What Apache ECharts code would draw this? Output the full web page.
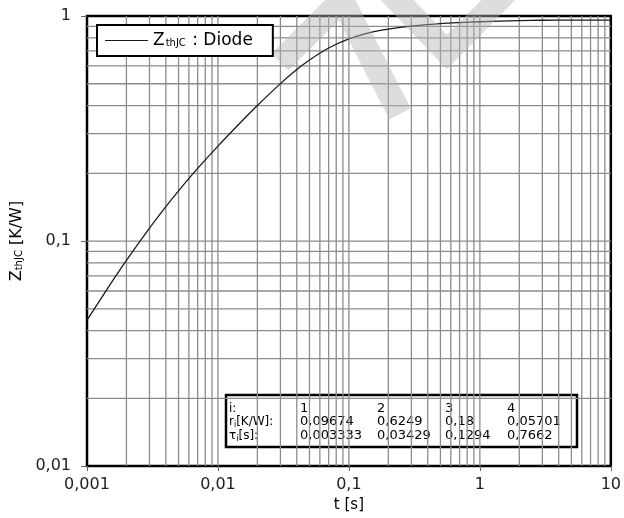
<!DOCTYPE html>
<html lang="en">
<head>
    <meta charset="UTF-8">
    <title>ZthJC Diode</title>
    <script src="https://cdn.jsdelivr.net/npm/echarts@6/dist/echarts.min.js"></script>
    <style>html, body {margin: 0; padding: 0; background: #fff;}</style>
</head>
<body>
<div id="main" style="width: 624px;height:518px;"></div>
<script>
    // curve
    var tData = [0.001, 0.0015, 0.002, 0.003, 0.004, 0.005, 0.007, 0.01, 0.015, 0.02, 0.03, 0.04, 0.05, 0.07,
        0.1, 0.15, 0.2, 0.3, 0.5, 0.7, 1, 2, 3, 5, 10];
    var zData = [0.0445, 0.064, 0.082, 0.1141, 0.1422, 0.1672, 0.2103, 0.2641, 0.3379, 0.3999, 0.5006, 0.5778, 0.6375, 0.7207,
        0.7917, 0.8473, 0.8745, 0.9023, 0.9251, 0.935, 0.9431, 0.9544, 0.9575, 0.9586, 0.9587];

    // axes range, decades and grid steps
    var xMin = 0.001, xMax = 10;
    var yMin = 0.01, yMax = 1;
    var xDecades = [0.001, 0.01, 0.1, 1];
    var yDecades = [0.01, 0.1];
    var steps = [1, 2, 3, 4, 5, 6, 7, 8, 9];

    // table in the lower right
    var idx = [1, 2, 3, 4];
    var rVals = [0.09674, 0.6249, 0.18, 0.05701];
    var tauVals = [0.003333, 0.03429, 0.1294, 0.7662];

    var FONT = '"DejaVu Sans", sans-serif';

    function comma(v) {
        return String(v).replace('.', ',');
    }

    // grid lines as broken line series (log axis minor lines at 2..9)
    var vLines = [], hLines = [];
    xDecades.forEach(function (d, k) {
        steps.forEach(function (s) {
            if (k === 0 && s === 1) return;
            var v = +(d * s).toPrecision(3);
            vLines.push([v, yMin], [v, yMax], [v, '-']);
        });
    });
    yDecades.forEach(function (d, k) {
        steps.forEach(function (s) {
            if (k === 0 && s === 1) return;
            var v = +(d * s).toPrecision(3);
            hLines.push([xMin, v], [xMax, v], ['-', v]);
        });
    });

    var curve = tData.map(function (t, i) {
        return [t, zData[i]];
    });

    // table
    var colX = [300, 377, 445, 507];
    var rowY = [409, 422, 436];
    var cellStyle = {fill: '#000', fontSize: 13, fontFamily: FONT, verticalAlign: 'middle'};
    var rich = {
        a: {fontSize: 12, fontFamily: FONT, fill: '#000'},
        s: {fontSize: 8, fontFamily: FONT, fill: '#000', padding: [5, 0, 0, 0]}
    };
    var table = [{
        type: 'rect',
        shape: {x: 226, y: 395, width: 351, height: 52},
        style: {fill: '#fff', stroke: '#000', lineWidth: 2.5}
    }];
    var rowLabels = ['{a|i:}', '{a|r}{s|i}{a|[K/W]:}', '{a|τ}{s|i}{a|[s]:}'];
    var rows = [idx, rVals, tauVals];
    rowLabels.forEach(function (lab, r) {
        table.push({
            type: 'text', x: 229, y: rowY[r],
            style: {text: lab, rich: rich, verticalAlign: 'middle', fill: '#000'}
        });
        rows[r].forEach(function (v, c) {
            table.push({
                type: 'text', x: colX[c], y: rowY[r],
                style: Object.assign({text: comma(v)}, cellStyle)
            });
        });
    });

    var gridLineSeries = function (name, data) {
        return {
            name: name,
            type: 'line',
            data: data,
            z: 2,
            silent: true,
            symbol: 'none',
            connectNulls: false,
            lineStyle: {color: '#8c8c8c', width: 1.3},
            emphasis: {disabled: true},
            tooltip: {show: false}
        };
    };

    var myChart = echarts.init(document.getElementById('main'));

    option = {
        backgroundColor: '#fff',
        animation: false,
        grid: {
            left: 87, right: 11, top: 16, bottom: 44,
            show: true, borderColor: '#000', borderWidth: 2.5
        },
        legend: {
            data: ['ZthJC : Diode'],
            left: 97, top: 25,
            z: 20,
            backgroundColor: '#fff',
            borderColor: '#000',
            borderWidth: 2,
            padding: [7, 20, 7, 8],
            icon: 'rect',
            itemWidth: 43,
            itemHeight: 1,
            formatter: function () {
                return '{z|Z}{s|thJC}{z| : Diode}';
            },
            textStyle: {
                rich: {
                    z: {fontSize: 17, fontFamily: FONT, color: '#000'},
                    s: {fontSize: 10, fontFamily: FONT, color: '#000', padding: [6, 1, 0, 1]}
                }
            }
        },
        xAxis: {
            type: 'log',
            logBase: 10,
            min: xMin,
            max: xMax,
            name: 't [s]',
            nameLocation: 'middle',
            nameGap: 21,
            nameTextStyle: {fontSize: 15, fontFamily: FONT, color: '#000'},
            axisLine: {show: false},
            axisTick: {show: true, length: 5, lineStyle: {color: '#666'}},
            splitLine: {show: false},
            axisLabel: {
                margin: 11, fontSize: 16, fontFamily: FONT, color: '#222',
                formatter: comma
            }
        },
        yAxis: {
            type: 'log',
            logBase: 10,
            min: yMin,
            max: yMax,
            name: '{z|Z}{s|thJC}{z| [K/W]}',
            nameLocation: 'middle',
            nameGap: 62,
            nameTextStyle: {
                rich: {
                    z: {fontSize: 16, fontFamily: FONT, color: '#000'},
                    s: {fontSize: 10, fontFamily: FONT, color: '#000', padding: [6, 0, 0, 0]}
                }
            },
            axisLine: {show: false},
            axisTick: {show: true, length: 6, lineStyle: {color: '#666'}},
            splitLine: {show: false},
            axisLabel: {
                margin: 16, fontSize: 16, fontFamily: FONT, color: '#222',
                formatter: comma
            }
        },
        graphic: [
            // watermark, see-through so the grid stays visible
            {
                type: 'polyline', z: 15, silent: true,
                shape: {points: [[280, 62], [342, 0], [400, 114]]},
                style: {stroke: '#b4b4b4', lineWidth: 24, fill: null, lineJoin: 'miter', opacity: 0.45}
            },
            {
                type: 'polyline', z: 15, silent: true,
                shape: {points: [[378, -20], [447, 52], [518, -20]]},
                style: {stroke: '#b4b4b4', lineWidth: 24, fill: null, lineJoin: 'miter', opacity: 0.45}
            },
            {type: 'group', z: 30, children: table}
        ],
        series: [
            gridLineSeries('vgrid', vLines),
            gridLineSeries('hgrid', hLines),
            {
                name: 'ZthJC : Diode',
                type: 'line',
                z: 10,
                data: curve,
                smooth: 0.3,
                symbol: 'none',
                color: '#1a1a1a',
                lineStyle: {width: 1.3, color: '#1a1a1a'}
            }
        ]
    };
    myChart.setOption(option);
</script>
</body>
</html>
